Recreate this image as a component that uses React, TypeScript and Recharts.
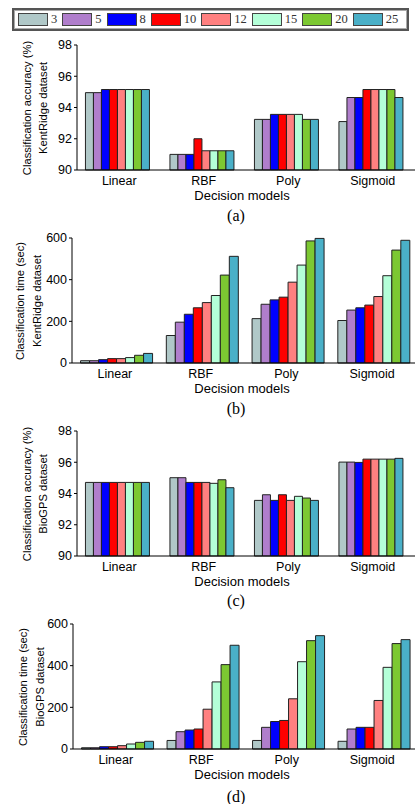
import { BarChart, Bar, XAxis, YAxis } from "recharts";

const models = ["Linear", "RBF", "Poly", "Sigmoid"];
const sizes = ["3", "5", "8", "10", "12", "15", "20", "25"];
const colors = ["#B0C8C8", "#B07ECC", "#0000FF", "#FF0000", "#FF8080", "#B4FFD8", "#7CC832", "#4AB0C8"];

// rows follow models, columns follow sizes
const kentAcc = [
  [94.95, 94.95, 95.15, 95.15, 95.15, 95.15, 95.15, 95.15],
  [91.0, 91.0, 91.0, 92.0, 91.23, 91.23, 91.23, 91.23],
  [93.24, 93.24, 93.56, 93.56, 93.56, 93.56, 93.24, 93.24],
  [93.1, 94.64, 94.64, 95.15, 95.15, 95.15, 95.15, 94.64],
];
const kentTime = [
  [11, 11, 16, 21, 21, 26, 37, 46],
  [132, 196, 234, 265, 290, 324, 422, 512],
  [213, 282, 303, 316, 388, 470, 586, 598],
  [204, 254, 265, 278, 319, 419, 542, 589],
];
const bioAcc = [
  [94.71, 94.71, 94.71, 94.71, 94.71, 94.71, 94.71, 94.71],
  [95.01, 95.01, 94.71, 94.71, 94.71, 94.65, 94.88, 94.37],
  [93.56, 93.92, 93.56, 93.92, 93.56, 93.82, 93.71, 93.56],
  [96.01, 96.01, 95.99, 96.2, 96.2, 96.2, 96.2, 96.25],
];
const bioTime = [
  [6, 6, 11, 11, 16, 24, 32, 37],
  [41, 83, 91, 96, 191, 322, 405, 498],
  [41, 104, 132, 137, 241, 419, 520, 544],
  [37, 96, 104, 104, 233, 392, 506, 525],
];

const accTicks = [90, 92, 94, 96, 98];
const timeTicks = [0, 200, 400, 600];

const SANS = "'Liberation Sans', Arial, Helvetica, sans-serif";
const SERIF = "'Liberation Serif', 'Times New Roman', serif";

function toRows(values: number[][]) {
  return models.map((m, r) => {
    const row: Record<string, string | number> = { model: m };
    sizes.forEach((s, c) => { row[s] = values[r][c]; });
    return row;
  });
}

interface PanelProps {
  plotTop: number;
  axisX: number;
  values: number[][];
  domain: [number, number];
  ticks: number[];
  lines: string[];
  labelXs: number[];
  caption: string;
  captionOffset: number;
}

function Panel({ plotTop, axisX, values, domain, ticks, lines, labelXs, caption, captionOffset }: PanelProps) {
  const plotH = 125;
  const plotBottom = plotTop + plotH;
  const midY = plotTop + plotH / 2;
  return (
    <>
      <div style={{ position: "absolute", left: 0, top: plotTop - 10 }}>
        <BarChart width={415} height={155} data={toRows(values)}
          margin={{ top: 10, right: 0, bottom: 0, left: 0 }}
          barCategoryGap="10%" barGap={0}>
          <XAxis dataKey="model" tickLine={false} interval={0} height={20} tickMargin={0}
            axisLine={{ stroke: "#000", strokeWidth: 1 }}
            tick={{ fill: "#000", fontSize: 12.5, fontFamily: SANS }} />
          <YAxis type="number" domain={domain} ticks={ticks} width={axisX} tickSize={3} tickMargin={2}
            axisLine={{ stroke: "#000", strokeWidth: 1 }} tickLine={{ stroke: "#000" }}
            tick={{ fill: "#000", fontSize: 12.5, fontFamily: SANS }} />
          {sizes.map((s, i) => (
            <Bar key={s} dataKey={s} fill={colors[i]} stroke="#222" strokeWidth={1}
              isAnimationActive={false} />
          ))}
        </BarChart>
      </div>
      {lines.map((t, i) => (
        <div key={i} style={{
          position: "absolute", left: labelXs[i] - 100, top: midY - 8, width: 200, height: 16,
          lineHeight: "16px", textAlign: "center", whiteSpace: "nowrap",
          fontFamily: SANS, fontSize: 11.2, color: "#000", transform: "rotate(-90deg)",
        }}>{t}</div>
      ))}
      <div style={{
        position: "absolute", left: 142, width: 200, top: plotBottom + 26 - 8, height: 16,
        lineHeight: "16px", textAlign: "center", fontFamily: SANS, fontSize: 13, color: "#000",
      }}>Decision models</div>
      <div style={{
        position: "absolute", left: 186, width: 100, top: plotBottom + captionOffset - 10, height: 20,
        lineHeight: "20px", textAlign: "center", fontFamily: SERIF, fontSize: 16, color: "#000",
      }}>{caption}</div>
    </>
  );
}

export default function App() {
  return (
    <div style={{ position: "absolute", left: 0, top: 0, width: 415, height: 804, background: "#fff", overflow: "hidden" }}>
      {/* legend box */}
      <div style={{
        position: "absolute", left: 12, top: 8, width: 389, height: 19,
        border: "2px solid #555", outline: "1px solid #aaa", outlineOffset: -3,
        display: "flex", alignItems: "center", paddingLeft: 4, boxSizing: "content-box",
      }}>
        {sizes.map((s, i) => (
          <div key={s} style={{ display: "flex", alignItems: "center", marginRight: 5 }}>
            <div style={{ width: 28, height: 11, background: colors[i], border: "1px solid #444" }} />
            <span style={{ marginLeft: 3, fontFamily: SERIF, fontSize: 12.5, color: "#333" }}>{s}</span>
          </div>
        ))}
      </div>

      <Panel plotTop={45} axisX={77} values={kentAcc} domain={[90, 98]} ticks={accTicks}
        lines={["Classification accuracy (%)", "KentRidge dataset"]} labelXs={[27, 43]}
        caption="(a)" captionOffset={46} />
      <Panel plotTop={238} axisX={72} values={kentTime} domain={[0, 600]} ticks={timeTicks}
        lines={["Classification time (sec)", "KentRidge dataset"]} labelXs={[20, 37]}
        caption="(b)" captionOffset={46} />
      <Panel plotTop={431} axisX={77} values={bioAcc} domain={[90, 98]} ticks={accTicks}
        lines={["Classification accuracy (%)", "BioGPS dataset"]} labelXs={[27, 43]}
        caption="(c)" captionOffset={45} />
      <Panel plotTop={624} axisX={73} values={bioTime} domain={[0, 600]} ticks={timeTicks}
        lines={["Classification time (sec)", "BioGPS dataset"]} labelXs={[23, 40]}
        caption="(d)" captionOffset={48} />
    </div>
  );
}
